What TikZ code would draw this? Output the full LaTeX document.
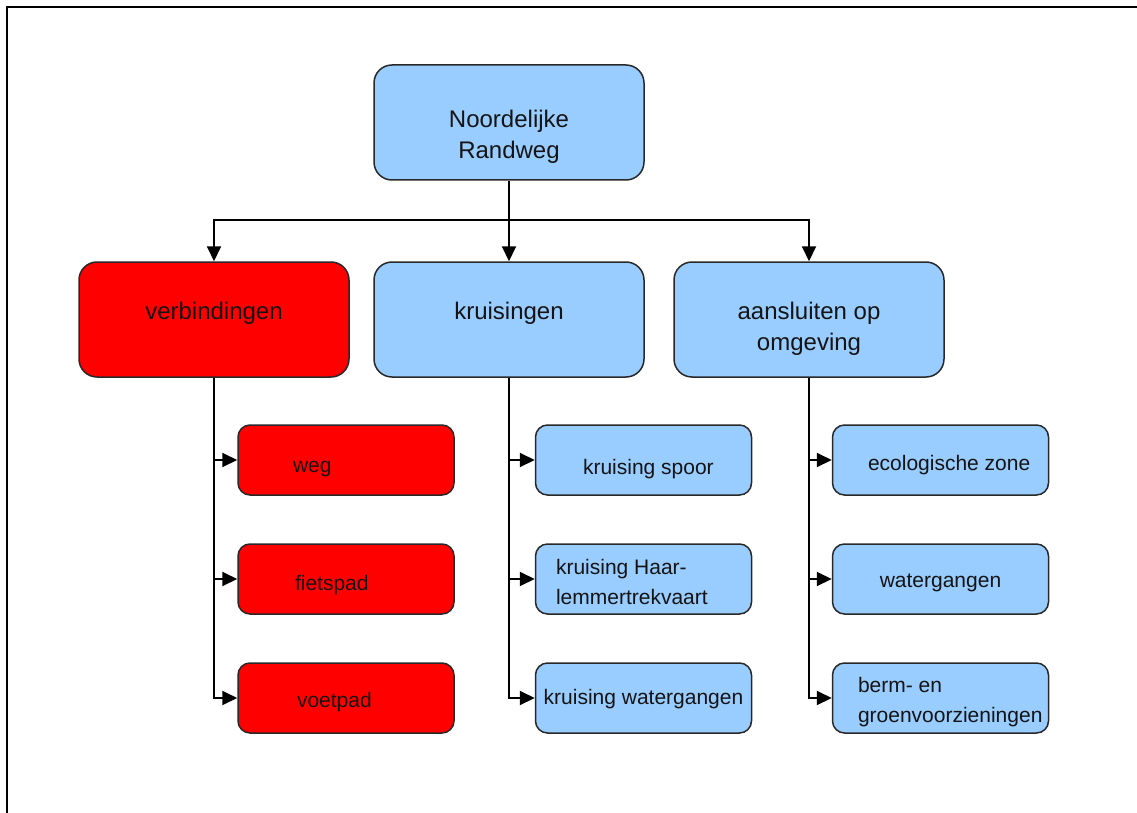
\documentclass[tikz,border=0pt]{standalone}
\usepackage{fontspec}
\setmainfont{Liberation Sans}
\usetikzlibrary{arrows.meta}
\definecolor{boxblue}{RGB}{153,204,255}
\definecolor{boxred}{RGB}{255,0,0}
\definecolor{ink}{RGB}{20,20,20}
\definecolor{edgegray}{RGB}{40,40,40}
% #1 = first baseline below node centre, #2 = column spec, #3 = lines
\newcommand\boxtext[3]{\raisebox{-#1}[0pt][0pt]{\begin{tabular}[t]{@{}#2@{}}#3\end{tabular}}}
\tikzset{
  bigbox/.style={draw=edgegray, line width=1.5pt, rounded corners=18pt,
    minimum width=270pt, minimum height=115pt, inner sep=0pt, text=ink,
    font=\fontsize{24}{31}\selectfont},
  smallbox/.style={draw=edgegray, line width=1.5pt, rounded corners=12pt,
    minimum width=216pt, minimum height=70pt, inner sep=0pt, text=ink,
    font=\fontsize{21}{30}\selectfont},
  bluefill/.style={fill=boxblue},
  redfill/.style={fill=boxred},
  conn/.style={line width=2pt, draw=black},
  arr/.style={conn, -{Triangle[length=15pt,width=14pt]}},
  frameline/.style={line width=2pt, draw=black},
}
\begin{document}
\begin{tikzpicture}[x=1pt,y=-1pt]
\useasboundingbox (0,0) rectangle (1137,813);
\fill[white] (0,0) rectangle (1137,813);
\draw[frameline] (7,813) -- (7,7) -- (1137,7);

% root
\node[bigbox,bluefill] (root) at (509,122.5) {\boxtext{5pt}{c}{Noordelijke\\Randweg}};

% level 1
\node[bigbox,redfill]  (verb)  at (214,319.5) {\boxtext{0pt}{c}{verbindingen}};
\node[bigbox,bluefill] (kruis) at (509,319.5) {\boxtext{0pt}{c}{kruisingen}};
\node[bigbox,bluefill] (aans)  at (809,319.5) {\boxtext{0pt}{c}{aansluiten op\\omgeving}};

% children of verbindingen
\node[smallbox,redfill] (weg)     at (346,460) {\boxtext{12pt}{l}{\makebox[106pt][l]{weg}}};
\node[smallbox,redfill] (fiets)   at (346,579) {\boxtext{11pt}{l}{\makebox[102pt][l]{fietspad}}};
\node[smallbox,redfill] (voet)    at (346,698) {\boxtext{9pt}{l}{\makebox[98pt][l]{voetpad}}};

% children of kruisingen
\node[smallbox,bluefill] (kspoor) at (643.5,460) {\boxtext{14pt}{l}{\makebox[121pt][l]{kruising spoor}}};
\node[smallbox,bluefill] (khaar)  at (643.5,579) {\boxtext{-5pt}{l}{\makebox[175pt][l]{kruising Haar-}\\lemmertrekvaart}};
\node[smallbox,bluefill] (kwater) at (643.5,698) {\boxtext{6.5pt}{c}{kruising watergangen}};

% children of aansluiten op omgeving
\node[smallbox,bluefill] (eco)    at (940.5,460) {\boxtext{10pt}{l}{\makebox[145pt][l]{ecologische zone}}};
\node[smallbox,bluefill] (water)  at (940.5,579) {\boxtext{8pt}{c}{watergangen}};
\node[smallbox,bluefill] (berm)   at (940.5,698) {\boxtext{-6pt}{l}{\makebox[165pt][l]{berm- en}\\\makebox[165pt][l]{groenvoorzieningen}}};

% connectors root -> level 1
\coordinate (bus) at (509,220);
\draw[conn] (root.south) -- (bus);
\draw[arr] (bus) -| (verb.north);
\draw[arr] (bus) -- (kruis.north);
\draw[arr] (bus) -| (aans.north);

% connectors level 1 -> children
\draw[arr] (verb.south) |- (weg.west);
\draw[arr] (verb.south) |- (fiets.west);
\draw[arr] (verb.south) |- (voet.west);

\draw[arr] (kruis.south) |- (kspoor.west);
\draw[arr] (kruis.south) |- (khaar.west);
\draw[arr] (kruis.south) |- (kwater.west);

\draw[arr] (aans.south) |- (eco.west);
\draw[arr] (aans.south) |- (water.west);
\draw[arr] (aans.south) |- (berm.west);
\end{tikzpicture}
\end{document}
